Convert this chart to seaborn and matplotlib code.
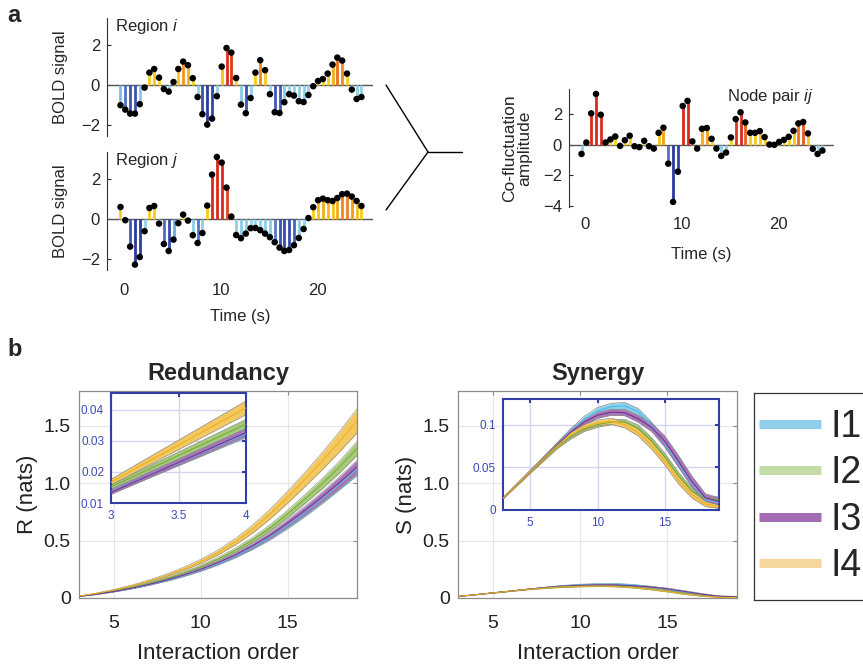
import numpy as np
import seaborn as sns
import matplotlib.pyplot as plt
from matplotlib.colors import LinearSegmentedColormap, Normalize
from matplotlib.lines import Line2D

sns.set_style('white')
plt.rcParams['font.family'] = ['Liberation Sans', 'DejaVu Sans']
plt.rcParams['mathtext.fontset'] = 'custom'
plt.rcParams['mathtext.rm'] = 'Liberation Sans'
plt.rcParams['mathtext.it'] = 'Liberation Sans:italic'

# ---- panel a : BOLD time series (TR = 0.5 s) ----
time_s = np.arange(51) * 0.5 - 0.4

region_i = [-1.03, -1.25, -1.45, -1.45, -0.98, -0.15, 0.60, 0.78, 0.35, -0.22,
            -0.35, 0.13, 0.78, 1.15, 0.97, 0.32, -0.62, -1.48, -2.00, -1.70,
            -0.58, 0.90, 1.83, 1.60, 0.33, -1.00, -1.43, -0.67, 0.60, 1.22,
            0.72, -0.48, -1.38, -1.42, -0.88, -0.48, -0.55, -0.83, -0.87, -0.52,
            -0.08, 0.18, 0.28, 0.55, 1.00, 1.35, 1.20, 0.55, -0.25, -0.72, -0.62]

region_j = [0.58, -0.08, -1.40, -2.30, -1.92, -0.63, 0.53, 0.63, -0.25, -1.27,
            -1.62, -1.05, -0.23, 0.20, -0.10, -0.83, -1.22, -0.72, 0.65, 2.20,
            3.08, 2.80, 1.55, 0.10, -0.82, -0.98, -0.75, -0.48, -0.47, -0.58,
            -0.75, -0.93, -1.18, -1.45, -1.62, -1.57, -1.33, -0.97, -0.52, 0.03,
            0.57, 0.92, 1.00, 0.92, 0.88, 1.03, 1.22, 1.25, 1.10, 0.88, 0.63]

cofluct = [-0.61, 0.13, 2.02, 3.28, 1.93, 0.13, 0.33, 0.52, -0.09, 0.28,
           0.57, -0.11, -0.17, 0.24, -0.11, -0.26, 0.76, 1.09, -1.24, -3.72,
           -1.76, 2.50, 2.83, 0.20, -0.26, 1.02, 1.07, 0.37, -0.26, -0.74,
           -0.52, 0.46, 1.65, 2.09, 1.43, 0.76, 0.76, 0.87, 0.48, 0.00,
           -0.02, 0.17, 0.30, 0.50, 0.89, 1.37, 1.46, 0.72, -0.28, -0.61, -0.39]

# ---- panel b : redundancy / synergy vs interaction order ----
orders = np.arange(3, 20)
groups = ['I1', 'I2', 'I3', 'I4']

red_I1 = [0.0136, 0.0322, 0.055, 0.082, 0.114, 0.151, 0.194, 0.243, 0.300, 0.366, 0.443, 0.531, 0.632, 0.743, 0.862, 0.990, 1.120]
red_I2 = [0.0152, 0.0353, 0.061, 0.091, 0.127, 0.168, 0.217, 0.273, 0.339, 0.415, 0.505, 0.610, 0.730, 0.860, 0.995, 1.140, 1.300]
red_I3 = [0.0134, 0.0326, 0.056, 0.084, 0.117, 0.155, 0.199, 0.249, 0.308, 0.375, 0.455, 0.545, 0.650, 0.760, 0.880, 1.005, 1.140]
red_I4 = [0.0167, 0.0405, 0.070, 0.105, 0.147, 0.195, 0.252, 0.318, 0.395, 0.490, 0.600, 0.730, 0.875, 1.030, 1.190, 1.360, 1.540]

red_err_I1 = [0.0007, 0.0013, 0.0023, 0.0036, 0.005, 0.0068, 0.009, 0.0115, 0.014, 0.017, 0.021, 0.026, 0.031, 0.036, 0.042, 0.049, 0.056]
red_err_I2 = [0.0007, 0.0015, 0.0025, 0.004, 0.0055, 0.0075, 0.010, 0.012, 0.015, 0.019, 0.023, 0.028, 0.033, 0.039, 0.045, 0.052, 0.060]
red_err_I3 = [0.0007, 0.0013, 0.0024, 0.0038, 0.0053, 0.0072, 0.0095, 0.012, 0.015, 0.018, 0.022, 0.027, 0.032, 0.038, 0.044, 0.051, 0.058]
red_err_I4 = [0.0009, 0.0022, 0.004, 0.006, 0.008, 0.011, 0.014, 0.018, 0.022, 0.028, 0.035, 0.043, 0.052, 0.062, 0.074, 0.089, 0.105]

syn_I1 = [0.0137, 0.029, 0.0445, 0.060, 0.076, 0.092, 0.106, 0.116, 0.121, 0.122, 0.115, 0.099, 0.078, 0.054, 0.031, 0.012, 0.009]
syn_I2 = [0.0137, 0.029, 0.0443, 0.059, 0.074, 0.086, 0.095, 0.100, 0.103, 0.103, 0.096, 0.081, 0.062, 0.040, 0.022, 0.014, 0.012]
syn_I3 = [0.0135, 0.029, 0.0443, 0.060, 0.076, 0.091, 0.103, 0.111, 0.1145, 0.114, 0.107, 0.097, 0.080, 0.057, 0.033, 0.014, 0.010]
syn_I4 = [0.0137, 0.029, 0.0445, 0.060, 0.075, 0.088, 0.097, 0.102, 0.104, 0.100, 0.091, 0.076, 0.057, 0.035, 0.018, 0.007, 0.004]

syn_err_I1 = [0.0006, 0.001, 0.0015, 0.002, 0.0025, 0.003, 0.0035, 0.004, 0.004, 0.004, 0.004, 0.004, 0.004, 0.0035, 0.003, 0.003, 0.003]
syn_err_I2 = [0.0006, 0.001, 0.0015, 0.002, 0.0025, 0.003, 0.003, 0.003, 0.003, 0.0033, 0.0037, 0.004, 0.004, 0.004, 0.0035, 0.003, 0.003]
syn_err_I3 = [0.0006, 0.001, 0.0015, 0.002, 0.0025, 0.003, 0.0033, 0.0035, 0.0035, 0.0035, 0.004, 0.005, 0.0065, 0.0068, 0.0065, 0.005, 0.0045]
syn_err_I4 = [0.0006, 0.001, 0.0015, 0.002, 0.0025, 0.003, 0.003, 0.0033, 0.0035, 0.0037, 0.004, 0.0045, 0.0045, 0.0045, 0.004, 0.003, 0.002]

red_mean = dict(zip(groups, [red_I1, red_I2, red_I3, red_I4]))
red_err = dict(zip(groups, [red_err_I1, red_err_I2, red_err_I3, red_err_I4]))
syn_mean = dict(zip(groups, [syn_I1, syn_I2, syn_I3, syn_I4]))
syn_err = dict(zip(groups, [syn_err_I1, syn_err_I2, syn_err_I3, syn_err_I4]))

line_cols = {'I1': '#4DBEEE', 'I2': '#77AC30', 'I3': '#7E2F8E', 'I4': '#EDB120'}
band_cols = {'I1': '#8dd0ea', 'I2': '#a8ca7e', 'I3': '#a877b8', 'I4': '#f3c860'}
legend_cols = {'I1': '#8fcfe9', 'I2': '#c3dca6', 'I3': '#a56db3', 'I4': '#f6d79b'}

stem_cmap = LinearSegmentedColormap.from_list('stem', [
    (0.0, '#2b3a9c'), (0.14, '#3b52b2'), (0.22, '#5a88cc'), (0.25, '#86cbe6'),
    (0.4999, '#a5dcee'), (0.5001, '#f9e11f'), (0.72, '#f7c41a'), (0.78, '#f29a1e'),
    (0.85, '#ec6a1c'), (0.9, '#e0391c'), (1.0, '#d92a1c')])
stem_norm = Normalize(-2, 2, clip=True)

fig = plt.figure(figsize=(8.63, 6.69), dpi=100)
W, H = 863, 669


def px_axes(l, t, r, b):
    return fig.add_axes([l / W, 1 - b / H, (r - l) / W, (b - t) / H])


def draw_stems(ax, vals):
    vals = np.asarray(vals)
    ax.axhline(0, color='#555555', lw=1.0, zorder=1)
    ax.vlines(time_s, 0, vals, colors=stem_cmap(stem_norm(vals)), lw=2.0, zorder=2)
    sns.scatterplot(x=time_s, y=vals, color='black', s=22, edgecolor='none',
                    ax=ax, zorder=3, legend=False)
    ax.set_xlim(-1.8, 25.8)
    ax.spines[['top', 'right', 'bottom']].set_visible(False)
    ax.spines['left'].set_color('#333333')
    ax.tick_params(axis='y', direction='in', length=3, labelsize=12, pad=5, left=True)
    ax.tick_params(axis='x', length=0, labelsize=12)


ax_i = px_axes(107, 18, 373, 136)
draw_stems(ax_i, region_i)
ax_i.set_ylim(-2.57, 3.33)
ax_i.set_yticks([-2, 0, 2])
ax_i.set_xticks([])
ax_i.set_ylabel('BOLD signal', fontsize=12, labelpad=9)
ax_i.text(0.03, 1.01, r'Region $\mathit{i}$', transform=ax_i.transAxes, fontsize=12, va='top')

ax_j = px_axes(107, 152, 373, 270)
draw_stems(ax_j, region_j)
ax_j.set_ylim(-2.57, 3.33)
ax_j.set_yticks([-2, 0, 2])
ax_j.set_xticks([0, 10, 20])
ax_j.tick_params(axis='x', pad=9)
ax_j.set_ylabel('BOLD signal', fontsize=12, labelpad=9)
ax_j.set_xlabel('Time (s)', fontsize=12, labelpad=8)
ax_j.text(0.03, 1.01, r'Region $\mathit{j}$', transform=ax_j.transAxes, fontsize=12, va='top')

ax_c = px_axes(569, 89, 834, 207)
draw_stems(ax_c, cofluct)
ax_c.set_xlim(-1.7, 25.8)
ax_c.set_ylim(-4.05, 3.6)
ax_c.set_yticks([-4, -2, 0, 2])
ax_c.set_xticks([0, 10, 20])
ax_c.tick_params(axis='x', pad=7)
ax_c.set_ylabel('Co-fluctuation\namplitude', fontsize=12.5, labelpad=8, linespacing=1.0)
ax_c.set_xlabel('Time (s)', fontsize=12, labelpad=11)
ax_c.text(0.595, 1.02, r'Node pair $\mathit{ij}$', transform=ax_c.transAxes, fontsize=12, va='top')

# bracket joining the two regions to the node pair
for y0 in (85, 210):
    fig.add_artist(Line2D([386 / W, 428 / W], [1 - y0 / H, 1 - 152 / H], color='k', lw=1.0))
fig.add_artist(Line2D([428 / W, 462 / W], [1 - 152 / H, 1 - 152 / H], color='k', lw=1.0))


def draw_bands(ax, means, errs, edge_lw=0.4, line_lw=0.7):
    for g in groups:
        m = np.asarray(means[g])
        e = np.asarray(errs[g])
        ax.fill_between(orders, m - e, m + e, color=band_cols[g], lw=0, zorder=2)
        ax.plot(orders, m - e, color='#8a8a8a', lw=edge_lw, zorder=2)
        ax.plot(orders, m + e, color='#8a8a8a', lw=edge_lw, zorder=2)
        sns.lineplot(x=orders, y=m, color=line_cols[g], lw=line_lw, ax=ax, zorder=3)


def style_main(ax):
    ax.set_xlim(3, 19)
    ax.set_ylim(0, 1.8)
    ax.set_xticks([5, 10, 15])
    ax.set_yticks([0, 0.5, 1.0, 1.5])
    ax.set_yticklabels(['0', '0.5', '1.0', '1.5'])
    ax.grid(True, color='#e6e6e6', lw=0.8)
    ax.set_axisbelow(True)
    for s in ax.spines.values():
        s.set_color('#8c8c8c')
        s.set_linewidth(0.9)
    ax.tick_params(direction='in', length=3, color='#8c8c8c', top=True, right=True,
                   labelsize=14, labelcolor='#222222')
    ax.tick_params(axis='x', pad=12)
    ax.tick_params(axis='y', pad=6)
    ax.set_xlabel('Interaction order', fontsize=16, labelpad=8, color='#222222')


def style_inset(ax):
    blue = '#2f3fa3'
    ax.set_facecolor('white')
    ax.grid(True, color='#d4d4f2', lw=1.0)
    ax.set_axisbelow(True)
    for s in ax.spines.values():
        s.set_color(blue)
        s.set_linewidth(1.5)
    ax.tick_params(direction='in', length=3, width=1.5, color=blue, top=True, right=True,
                   labelsize=8.5, labelcolor='#3a4ab5', pad=5)


ax_r = px_axes(79, 391, 357, 598)
draw_bands(ax_r, red_mean, red_err)
style_main(ax_r)
ax_r.set_ylabel('R (nats)', fontsize=16, labelpad=4, color='#222222')
ax_r.set_title('Redundancy', fontsize=17, fontweight='bold', pad=8)

ax_s = px_axes(458, 391, 737, 598)
draw_bands(ax_s, syn_mean, syn_err)
style_main(ax_s)
ax_s.set_ylabel('S (nats)', fontsize=16, labelpad=4, color='#222222')
ax_s.set_title('Synergy', fontsize=17, fontweight='bold', pad=8)

ax_ri = px_axes(111, 393, 246, 503)
draw_bands(ax_ri, red_mean, red_err, edge_lw=0.5, line_lw=0.8)
style_inset(ax_ri)
ax_ri.set_xlim(3, 4)
ax_ri.set_ylim(0.01, 0.0453)
ax_ri.set_xticks([3, 3.5, 4])
ax_ri.set_xticklabels(['3', '3.5', '4'])
ax_ri.set_yticks([0.01, 0.02, 0.03, 0.04])
ax_ri.set_yticklabels(['0.01', '0.02', '0.03', '0.04'])

ax_si = px_axes(503, 399, 719, 510)
draw_bands(ax_si, syn_mean, syn_err, edge_lw=0.5, line_lw=0.8)
style_inset(ax_si)
ax_si.set_xlim(3, 19)
ax_si.set_ylim(0, 0.13)
ax_si.set_xticks([5, 10, 15])
ax_si.set_yticks([0, 0.05, 0.1])
ax_si.set_yticklabels(['0', '0.05', '0.1'])

# legend box
ax_leg = px_axes(754, 393, 900, 600)
ax_leg.set_xticks([])
ax_leg.set_yticks([])
for s in ax_leg.spines.values():
    s.set_color('#333333')
    s.set_linewidth(0.9)
handles = [Line2D([], [], color=legend_cols[g], lw=6.5, solid_capstyle='butt') for g in groups]
ax_leg.legend(handles, groups, loc='center left', bbox_to_anchor=(0.035, 0.5),
              frameon=False, fontsize=27, handlelength=1.65, handletextpad=0.25,
              labelspacing=0.28, borderpad=0, borderaxespad=0)

fig.text(7 / W, 1 - 4 / H, 'a', fontsize=17, fontweight='bold', va='top')
fig.text(7 / W, 1 - 338 / H, 'b', fontsize=17, fontweight='bold', va='top')

fig.savefig('out.png', dpi=100)
